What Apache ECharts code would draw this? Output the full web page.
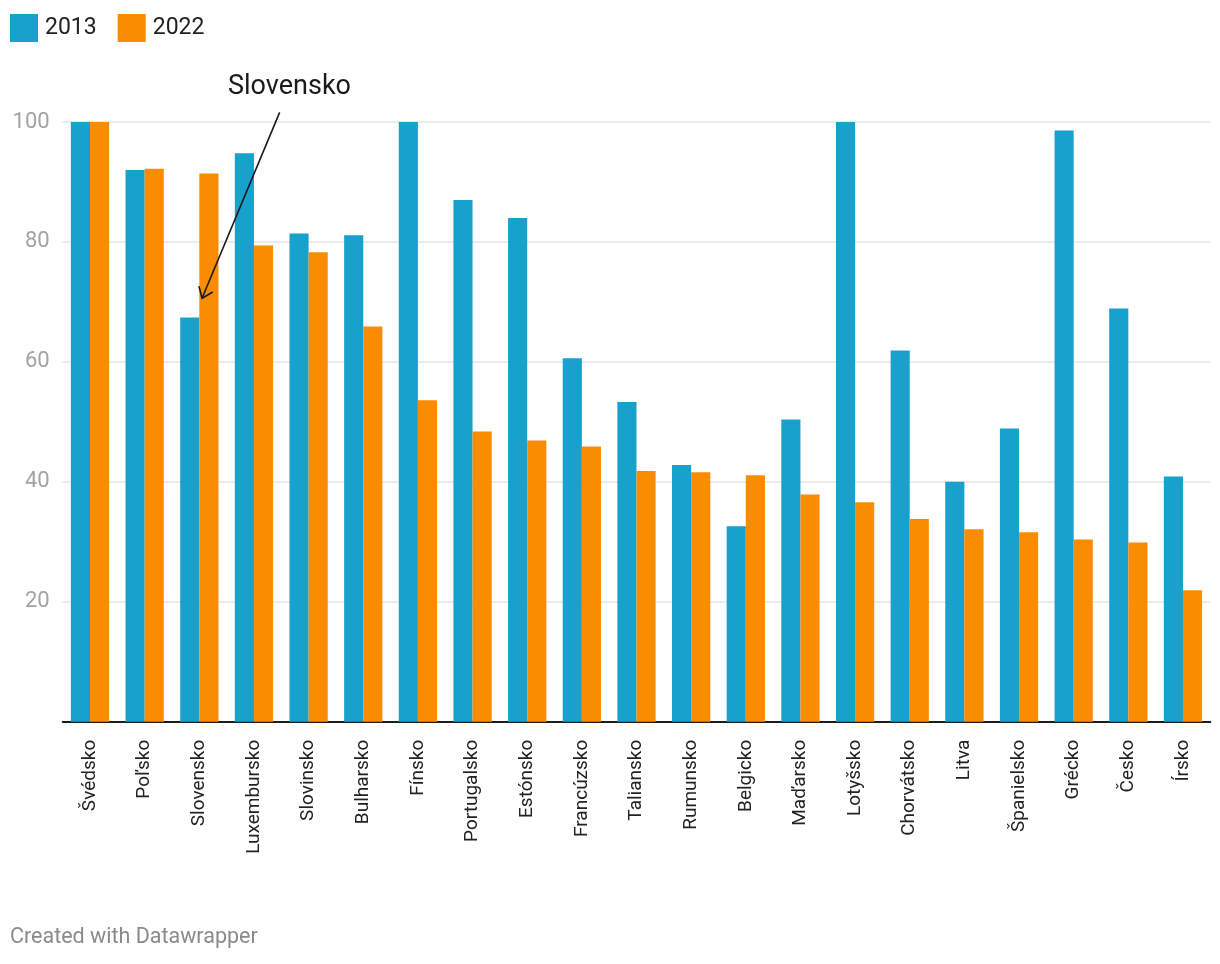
<!DOCTYPE html>
<html>
<head>
<meta charset="utf-8">
<script src="https://cdn.jsdelivr.net/npm/echarts@6/dist/echarts.min.js"></script>
<style>
html,body{margin:0;padding:0;background:#fff;}
#chart{width:1220px;height:964px;}
</style>
</head>
<body>
<div id="chart"></div>
<script>
const categories = ['Švédsko','Poľsko','Slovensko','Luxembursko','Slovinsko','Bulharsko','Fínsko','Portugalsko','Estónsko','Francúzsko','Taliansko','Rumunsko','Belgicko','Maďarsko','Lotyšsko','Chorvátsko','Litva','Španielsko','Grécko','Česko','Írsko'];
const values2013 = [100, 92, 67.4, 94.8, 81.4, 81.1, 100, 87, 84, 60.6, 53.3, 42.8, 32.6, 50.4, 100, 61.9, 40, 48.9, 98.6, 68.9, 40.9];
const values2022 = [100, 92.2, 91.4, 79.4, 78.3, 65.9, 53.6, 48.4, 46.9, 45.9, 41.8, 41.6, 41.1, 37.9, 36.6, 33.8, 32.1, 31.6, 30.4, 29.9, 21.9];
const seriesNames = ['2013', '2022'];
const yTicks = [0, 20, 40, 60, 80, 100];

const annotation = { text: 'Slovensko', category: 2, value: 70.6, startOffset: 1.47, startValue: 101.6, textOffset: 1.65, textValue: 105.8 };

const FONT = 'Roboto, "Noto Sans", sans-serif';
const chart = echarts.init(document.getElementById('chart'), null, { renderer: 'canvas' });

const option = {
  animation: false,
  backgroundColor: '#fff',
  textStyle: { fontFamily: FONT },
  legend: {
    left: 10, top: 14, padding: 0,
    itemWidth: 28, itemHeight: 28, itemGap: 21,
    icon: 'rect',
    textStyle: { fontSize: 23, color: '#222', fontFamily: FONT, padding: [0, 0, 0, 2] },
    data: seriesNames
  },
  grid: { left: 62.7, right: 9.7, top: 122, bottom: 242.3, containLabel: false },
  xAxis: {
    type: 'category',
    data: categories,
    axisLine: { lineStyle: { color: '#1d1d1d', width: 2 } },
    axisTick: { show: false },
    axisLabel: { rotate: 90, margin: 18, fontSize: 19, color: '#222', fontFamily: FONT, interval: 0 }
  },
  yAxis: {
    type: 'value',
    min: yTicks[0], max: yTicks[yTicks.length - 1], interval: 20,
    axisLine: { show: false },
    axisTick: { show: false },
    splitLine: { lineStyle: { color: '#e5e5e5', width: 1.5 } },
    axisLabel: { showMinLabel: false, margin: 13, fontSize: 22, color: '#a3a3a3', fontFamily: FONT }
  },
  series: [
    { name: seriesNames[0], type: 'bar', data: values2013, barGap: '0%', barCategoryGap: '30%', itemStyle: { color: '#18a1cd' } },
    { name: seriesNames[1], type: 'bar', data: values2022, barGap: '0%', barCategoryGap: '30%', itemStyle: { color: '#fa8c00' } }
  ]
};
chart.setOption(option);

function catPos(pos, value) {
  const i = Math.floor(pos);
  const f = pos - i;
  const a = chart.convertToPixel({ gridIndex: 0 }, [i, value]);
  const b = chart.convertToPixel({ gridIndex: 0 }, [i + 1, value]);
  return [a[0] + f * (b[0] - a[0]), a[1]];
}

const end = catPos(annotation.category + 0.05, annotation.value);
const start = catPos(annotation.category + annotation.startOffset, annotation.startValue);
const txt = catPos(annotation.category + annotation.textOffset, annotation.textValue);
const dx = start[0] - end[0], dy = start[1] - end[1];
const len = Math.sqrt(dx * dx + dy * dy);
const ux = dx / len, uy = dy / len;
const ang = 37 * Math.PI / 180, wl = 12.5;
function rot(x, y, a) { return [x * Math.cos(a) - y * Math.sin(a), x * Math.sin(a) + y * Math.cos(a)]; }
const w1 = rot(ux, uy, ang), w2 = rot(ux, uy, -ang);

chart.setOption({
  graphic: [
    { type: 'line', shape: { x1: start[0], y1: start[1], x2: end[0], y2: end[1] }, style: { stroke: '#1a1a1a', lineWidth: 1.6 }, z: 100 },
    { type: 'polyline', shape: { points: [[end[0] + w1[0] * wl, end[1] + w1[1] * wl], end, [end[0] + w2[0] * wl, end[1] + w2[1] * wl]] }, style: { stroke: '#1a1a1a', lineWidth: 1.6, fill: null }, z: 100 },
    { type: 'text', x: txt[0], y: txt[1], style: { text: annotation.text, fontSize: 27, fontFamily: FONT, fill: '#1a1a1a', align: 'center', verticalAlign: 'middle' }, z: 100 },
    { type: 'text', x: 10, y: 938, style: { text: 'Created with Datawrapper', fontSize: 21.5, fontFamily: FONT, fill: '#8a8a8a', verticalAlign: 'middle' } }
  ]
});
</script>
</body>
</html>
